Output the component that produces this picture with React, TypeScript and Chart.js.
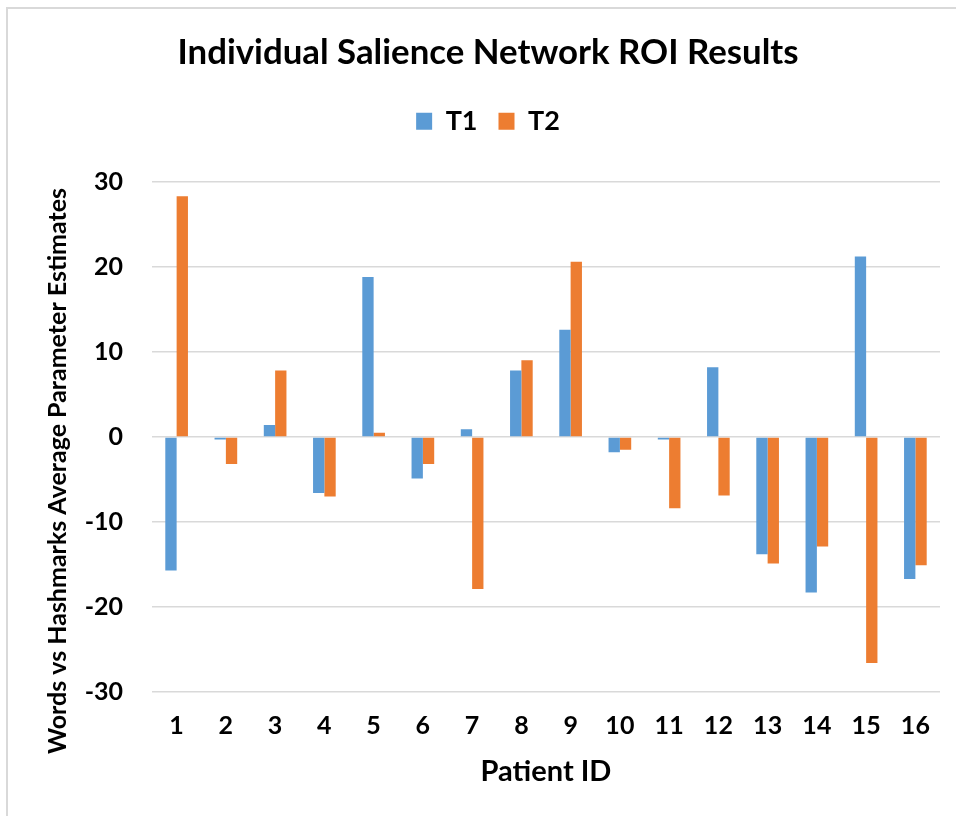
import React, { useEffect, useRef } from "react";
import { Chart, registerables } from "chart.js";

Chart.register(...registerables);

const patientIds = ["1", "2", "3", "4", "5", "6", "7", "8", "9", "10", "11", "12", "13", "14", "15", "16"];
const t1Values = [-15.7, -0.3, 1.4, -6.6, 18.8, -4.9, 0.9, 7.8, 12.6, -1.8, -0.3, 8.2, -13.8, -18.3, 21.2, -16.7];
const t2Values = [28.3, -3.2, 7.8, -7.0, 0.5, -3.2, -17.9, 9.0, 20.6, -1.5, -8.4, -6.9, -14.9, -12.9, -26.6, -15.1];
const yTicks = [-30, -20, -10, 0, 10, 20, 30];

const chartTitle = "Individual Salience Network ROI Results";
const yTitle = "Words vs Hashmarks Average Parameter Estimates";
const xTitle = "Patient ID";

const FONT = "Lato";

const yTitlePlugin = {
  id: "yTitlePlugin",
  afterDraw(chart: any) {
    const ctx = chart.ctx;
    ctx.save();
    ctx.translate(58, 471);
    ctx.rotate(-Math.PI / 2);
    ctx.font = `bold 25px ${FONT}`;
    ctx.fillStyle = "#000";
    ctx.textAlign = "center";
    ctx.textBaseline = "middle";
    ctx.fillText(yTitle, 0, 0);
    ctx.restore();
  },
};

const legendSpacer = {
  id: "legendSpacer",
  beforeInit(chart: any) {
    const legend = chart.legend;
    if (!legend) return;
    const origFit = legend.fit;
    legend.fit = function () {
      origFit.call(this);
      this.height += 37;
    };
  },
};

export default function App() {
  const ref = useRef<HTMLCanvasElement | null>(null);
  useEffect(() => {
    if (!ref.current) return;
    Chart.defaults.font.family = FONT;
    const chart = new Chart(ref.current, {
      type: "bar",
      data: {
        labels: patientIds,
        datasets: [
          { label: "T1", data: t1Values, backgroundColor: "#5B9BD5", categoryPercentage: 0.46, barPercentage: 1 },
          { label: "T2", data: t2Values, backgroundColor: "#ED7D31", categoryPercentage: 0.46, barPercentage: 1 },
        ],
      },
      options: {
        animation: false,
        responsive: false,
        maintainAspectRatio: false,
        layout: { padding: { left: 36, right: 16, top: 0, bottom: 0 } },
        plugins: {
          title: {
            display: true,
            text: chartTitle,
            color: "#000",
            font: { family: FONT, size: 34.8, weight: "bold" },
            padding: { top: 32, bottom: 13 },
          },
          legend: {
            display: true,
            labels: {
              color: "#000",
              font: { family: FONT, size: 27, weight: "bold" },
              boxWidth: 16,
              boxHeight: 17,
              padding: 21,
            },
          },
          tooltip: { enabled: false },
        },
        scales: {
          x: {
            grid: { display: false },
            border: { display: false },
            ticks: { color: "#000", font: { family: FONT, size: 25, weight: "bold" }, padding: 11, maxRotation: 0 },
            title: {
              display: true,
              text: xTitle,
              color: "#000",
              font: { family: FONT, size: 29, weight: "bold" },
              padding: { top: 2.6, bottom: 26.6 },
            },
          },
          y: {
            min: -30,
            max: 30,
            afterFit(scale: any) {
              scale.width = 116;
            },
            afterBuildTicks(scale: any) {
              scale.ticks = yTicks.map((v) => ({ value: v }));
            },
            grid: { color: "#D9D9D9", lineWidth: 1.5, drawTicks: false },
            border: { display: false },
            ticks: { color: "#000", font: { family: FONT, size: 25, weight: "bold" }, padding: 29 },
          },
        },
      },
      plugins: [yTitlePlugin, legendSpacer],
    });
    return () => chart.destroy();
  }, []);

  return (
    <div style={{ position: "absolute", left: 0, top: 0, width: 956, height: 816, background: "#fff", overflow: "hidden" }}>
      <div style={{ position: "absolute", left: 6, top: 7, width: 1000, height: 900, border: "2px solid #D9D9D9" }} />
      <canvas ref={ref} width={956} height={816} style={{ position: "absolute", left: 0, top: 0 }} />
    </div>
  );
}
